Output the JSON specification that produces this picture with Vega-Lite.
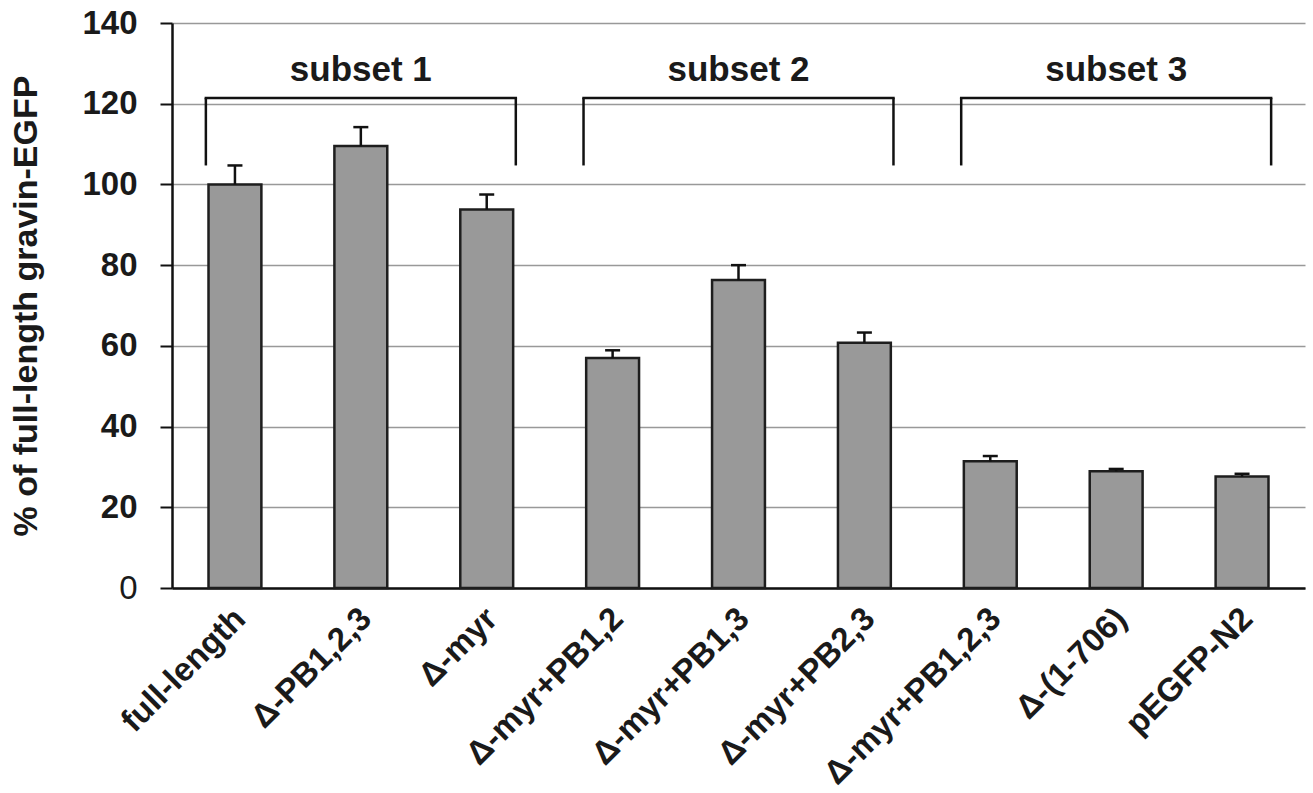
{
  "$schema": "https://vega.github.io/schema/vega-lite/v6.json",
  "width": 1133,
  "height": 565,
  "autosize": "none",
  "padding": {"left": 172, "top": 23, "right": 8, "bottom": 205},
  "background": "white",
  "config": {
    "view": {"stroke": null},
    "font": "Liberation Sans"
  },
  "datasets": {
    "bars": [
      {"construct": "full-length", "value": 100.0, "upper": 104.7},
      {"construct": "Δ-PB1,2,3", "value": 109.5, "upper": 114.2},
      {"construct": "Δ-myr", "value": 93.8, "upper": 97.5},
      {"construct": "Δ-myr+PB1,2", "value": 57.0, "upper": 58.9},
      {"construct": "Δ-myr+PB1,3", "value": 76.3, "upper": 80.0},
      {"construct": "Δ-myr+PB2,3", "value": 60.8, "upper": 63.3},
      {"construct": "Δ-myr+PB1,2,3", "value": 31.4, "upper": 32.7},
      {"construct": "Δ-(1-706)", "value": 28.9, "upper": 29.5},
      {"construct": "pEGFP-N2", "value": 27.6, "upper": 28.3}
    ],
    "subsets": [
      {"label": "subset 1", "first": "full-length", "middle": "Δ-PB1,2,3", "last": "Δ-myr"},
      {"label": "subset 2", "first": "Δ-myr+PB1,2", "middle": "Δ-myr+PB1,3", "last": "Δ-myr+PB2,3"},
      {"label": "subset 3", "first": "Δ-myr+PB1,2,3", "middle": "Δ-(1-706)", "last": "pEGFP-N2"}
    ]
  },
  "layer": [
    {
      "data": {"name": "bars"},
      "mark": {"type": "bar", "fill": "#999999", "stroke": "#1e1e1e", "strokeWidth": 2.5},
      "encoding": {
        "x": {
          "field": "construct",
          "type": "nominal",
          "sort": null,
          "scale": {
            "domain": ["full-length", "Δ-PB1,2,3", "Δ-myr", "Δ-myr+PB1,2", "Δ-myr+PB1,3", "Δ-myr+PB2,3", "Δ-myr+PB1,2,3", "Δ-(1-706)", "pEGFP-N2"],
            "paddingInner": 0.58,
            "paddingOuter": 0.29
          },
          "axis": {
            "title": null,
            "labelAngle": -45,
            "labelAlign": "right",
            "labelBaseline": "top",
            "labelFont": "Liberation Sans",
            "labelFontSize": 33,
            "labelFontWeight": "bold",
            "labelColor": "#1a1a1a",
            "labelLimit": 500,
            "labelPadding": 14,
            "labelOffset": -6,
            "ticks": false,
            "tickSize": 0,
            "labelOverlap": false,
            "domainColor": "#111111",
            "domainWidth": 2.5,
            "grid": false
          }
        },
        "y": {
          "field": "value",
          "type": "quantitative",
          "scale": {"domain": [0, 140], "nice": false},
          "axis": {
            "title": "% of full-length gravin-EGFP",
            "titleFont": "Liberation Sans",
            "titleFontSize": 34,
            "titleFontWeight": "bold",
            "titleColor": "#1a1a1a",
            "titlePadding": 38,
            "values": [0, 20, 40, 60, 80, 100, 120, 140],
            "labelFont": "Liberation Sans",
            "labelFontSize": 33,
            "labelFontWeight": {"condition": {"test": "datum.value === 0", "value": "normal"}, "value": "bold"},
            "labelColor": "#1a1a1a",
            "labelPadding": 23,
            "tickSize": 12,
            "tickWidth": 2,
            "tickColor": "#111111",
            "domainColor": "#111111",
            "domainWidth": 2.5,
            "grid": true,
            "gridColor": "#999999",
            "gridWidth": 1.5
          }
        }
      }
    },
    {
      "data": {"name": "bars"},
      "mark": {"type": "rule", "stroke": "#111111", "strokeWidth": 2.5},
      "encoding": {
        "x": {"field": "construct", "type": "nominal"},
        "y": {"field": "value", "type": "quantitative"},
        "y2": {"field": "upper"}
      }
    },
    {
      "data": {"name": "bars"},
      "mark": {"type": "tick", "orient": "horizontal", "color": "#111111", "size": 15, "thickness": 2.5, "opacity": 1},
      "encoding": {
        "x": {"field": "construct", "type": "nominal"},
        "y": {"field": "upper", "type": "quantitative"}
      }
    },
    {
      "data": {"name": "subsets"},
      "mark": {"type": "rule", "stroke": "#111111", "strokeWidth": 2.5, "strokeCap": "square"},
      "encoding": {
        "x": {"field": "first", "type": "nominal", "bandPosition": -0.05},
        "x2": {"field": "last", "bandPosition": 1.05},
        "y": {"datum": 121.4}
      }
    },
    {
      "data": {"name": "subsets"},
      "mark": {"type": "rule", "stroke": "#111111", "strokeWidth": 2.5},
      "encoding": {
        "x": {"field": "first", "type": "nominal", "bandPosition": -0.05},
        "y": {"datum": 104.7},
        "y2": {"datum": 121.4}
      }
    },
    {
      "data": {"name": "subsets"},
      "mark": {"type": "rule", "stroke": "#111111", "strokeWidth": 2.5},
      "encoding": {
        "x": {"field": "last", "type": "nominal", "bandPosition": 1.05},
        "y": {"datum": 104.7},
        "y2": {"datum": 121.4}
      }
    },
    {
      "data": {"name": "subsets"},
      "mark": {"type": "text", "font": "Liberation Sans", "fontSize": 35, "fontWeight": "bold", "color": "#1a1a1a", "align": "center", "baseline": "alphabetic"},
      "encoding": {
        "x": {"field": "middle", "type": "nominal"},
        "y": {"datum": 125.6},
        "text": {"field": "label"}
      }
    }
  ]
}
